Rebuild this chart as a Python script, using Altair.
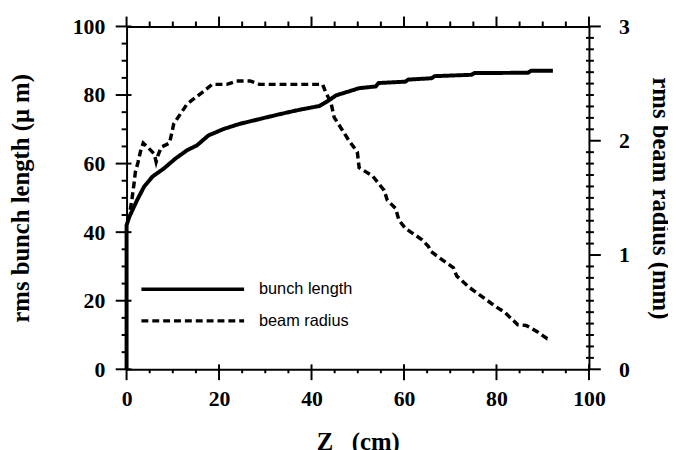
import altair as alt
import pandas as pd

# ---- data ----
# rms bunch length (um) vs Z (cm)
z_bunch = [0, 0, 0.6, 1.3, 2.3, 3.8, 5.6, 8.1, 10.6, 13.1, 15.2, 17.7, 21.0, 24.5,
           28.8, 33.1, 37.4, 41.7, 43.6, 45.3, 47.0, 50.3, 53.9, 54.5, 60.3, 60.9,
           66.0, 66.6, 74.6, 75.2, 86.8, 87.5, 92.2]
bunch_length = [0, 42, 44.5, 46.5, 49.4, 53.3, 56.2, 58.6, 61.5, 63.9, 65.3, 68.2,
                70.1, 71.6, 73.0, 74.4, 75.7, 76.8, 78.3, 79.9, 80.6, 82.0, 82.5,
                83.5, 83.9, 84.5, 84.9, 85.5, 85.9, 86.4, 86.5, 87.1, 87.1]

# rms beam radius (mm) vs Z (cm)
z_radius = [0.8, 1.2, 1.6, 1.9, 2.5, 3.0, 3.6, 4.7, 6.0, 6.4, 6.8, 7.5, 9.3, 10.2,
            13.1, 16.7, 18.5, 21.7, 23.8, 26.7, 28.8, 42.4, 43.1, 44.2, 44.9, 46.5,
            48.1, 49.9, 50.3, 53.2, 55.7, 56.4, 58.2, 58.9, 60.3, 63.9, 65.3, 65.8,
            68.2, 70.7, 71.4, 74.2, 77.1, 79.6, 81.8, 84.6, 86.4, 88.9, 91.0, 91.8]
beam_radius = [1.395, 1.50, 1.62, 1.725, 1.815, 1.905, 1.98, 1.938, 1.884, 1.815,
               1.872, 1.944, 1.98, 2.148, 2.322, 2.433, 2.493, 2.493, 2.523, 2.523,
               2.493, 2.493, 2.421, 2.334, 2.205, 2.103, 2.001, 1.902, 1.764, 1.692,
               1.566, 1.479, 1.407, 1.305, 1.233, 1.134, 1.074, 1.032, 0.96, 0.888,
               0.816, 0.714, 0.63, 0.555, 0.498, 0.39, 0.384, 0.327, 0.267, 0.267]

series_names = ["bunch length", "beam radius"]

# axis tick values
x_ticks = list(range(0, 101, 5))
x_major = list(range(0, 101, 20))
x_minor = [v for v in x_ticks if v % 20]
yl_ticks = list(range(0, 101, 5))
yl_major = list(range(0, 101, 20))
yl_minor = [v for v in yl_ticks if v % 20]
yr_major = [0, 1, 2, 3]
yr_minor = [i / 10 for i in range(31) if i % 10]

df_b = pd.DataFrame({"z": z_bunch, "v": bunch_length, "series": series_names[0],
                     "i": range(len(z_bunch))})
df_r = pd.DataFrame({"z": z_radius, "v": beam_radius, "series": series_names[1],
                     "i": range(len(z_radius))})

W, H = 468, 347
SERIF = "Liberation Serif"
SANS = "Liberation Sans"
maj20 = "datum.value % 20 === 0"

tick_style = dict(ticks=True, tickColor="black", tickWidth=2, tickOpacity=0, grid=False)
common = dict(domainColor="black", domainWidth=2,
              labelColor="black", titleColor="black",
              labelFont=SERIF, labelFontSize=22, labelFontWeight="bold",
              titleFont=SERIF, titleFontSize=25, titleFontWeight="bold",
              labelOverlap=False, labelFlush=False, **tick_style)

xscale = alt.Scale(domain=[0, 100], nice=False, zero=False)
ylscale = alt.Scale(domain=[0, 100], nice=False)
yrscale = alt.Scale(domain=[0, 3], nice=False)

x_bottom = alt.Axis(orient="bottom", values=x_ticks, tickSize=4,
                    labelExpr=f"{maj20} ? datum.label : ''",
                    labelPadding=16, title="Z\u00a0\u00a0\u00a0(cm)", titlePadding=20,
                    **common)
y_left = alt.Axis(orient="left", values=yl_ticks, tickSize=5,
                  labelExpr=f"{maj20} ? datum.label : ''",
                  labelPadding=17, title="rms bunch length (\u03bc m)", titlePadding=39,
                  **common)
y_right = alt.Axis(orient="right", values=yr_major, tickSize=12, format="d",
                   labelPadding=18, title="rms beam radius (mm)", titlePadding=18,
                   **common)
x_top = alt.Axis(orient="top", values=x_ticks, tickSize=5, labels=False, title=None,
                 domainColor="black", domainWidth=2, **tick_style)

dash = alt.StrokeDash(
    "series:N",
    scale=alt.Scale(domain=series_names, range=[[1, 0], [7, 4]]),
    legend=alt.Legend(title=None, orient="none", legendX=13, legendY=257,
                      symbolType="stroke", symbolSize=10800, symbolStrokeWidth=3.5,
                      symbolStrokeColor="black", labelFont=SANS, labelFontSize=16.5,
                      labelColor="black", labelOffset=13, clipHeight=18,
                      rowPadding=14, padding=0),
)

bunch = alt.Chart(df_b).mark_line(color="black", strokeWidth=4, strokeJoin="round").encode(
    x=alt.X("z:Q", scale=xscale, axis=x_bottom),
    y=alt.Y("v:Q", scale=ylscale, axis=y_left),
    strokeDash=dash,
    order="i:Q",
)
radius = alt.Chart(df_r).mark_line(color="black", strokeWidth=3.5).encode(
    x=alt.X("z:Q", scale=xscale, axis=x_top),
    y=alt.Y("v:Q", scale=yrscale, axis=y_right),
    strokeDash=dash,
    order="i:Q",
)


# tick marks: short two-point lines; the tick value goes through the axis scale,
# the tick end (0/1) through a small pixel-range scale giving the tick length
def tick_frame(vals):
    return pd.DataFrame([{"t": v, "e": e} for v in vals for e in (0, 1)])


def x_tick_layer(vals, px0, px1):
    return alt.Chart(tick_frame(vals)).mark_line(color="black", strokeWidth=2).encode(
        x=alt.X("t:Q", scale=xscale, axis=None),
        y=alt.Y("e:Q", scale=alt.Scale(domain=[0, 1], range=[px0, px1]), axis=None),
        detail="t:N", order="e:Q")


def y_tick_layer(vals, scale, px0, px1):
    return alt.Chart(tick_frame(vals)).mark_line(color="black", strokeWidth=2).encode(
        y=alt.Y("t:Q", scale=scale, axis=None),
        x=alt.X("e:Q", scale=alt.Scale(domain=[0, 1], range=[px0, px1]), axis=None),
        detail="t:N", order="e:Q")


tick_layers = [
    x_tick_layer(x_minor, H, H + 4),        # bottom minor
    x_tick_layer(x_major, H - 5, H + 11),   # bottom major (crossing)
    x_tick_layer(x_minor, -5, 0),           # top minor
    x_tick_layer(x_major, -10, 0),          # top major
    y_tick_layer(yl_minor, ylscale, -5, 0),           # left minor
    y_tick_layer(yl_major, ylscale, -11, 5),          # left major (crossing)
    y_tick_layer(yr_minor, yrscale, W - 3, W + 5),    # right minor (crossing)
    y_tick_layer(yr_major, yrscale, W, W + 12),       # right major
]

chart = (
    alt.layer(bunch, radius, *tick_layers)
    .resolve_scale(x="independent", y="independent")
    .resolve_axis(x="independent", y="independent")
    .properties(width=W, height=H, autosize=alt.AutoSizeParams(type="none"),
                padding={"left": 120, "top": 16, "right": 80, "bottom": 79},
                background="white")
    .configure_view(stroke=None)
)

chart.save("out.html", embed_options={"renderer": "svg", "actions": False})
